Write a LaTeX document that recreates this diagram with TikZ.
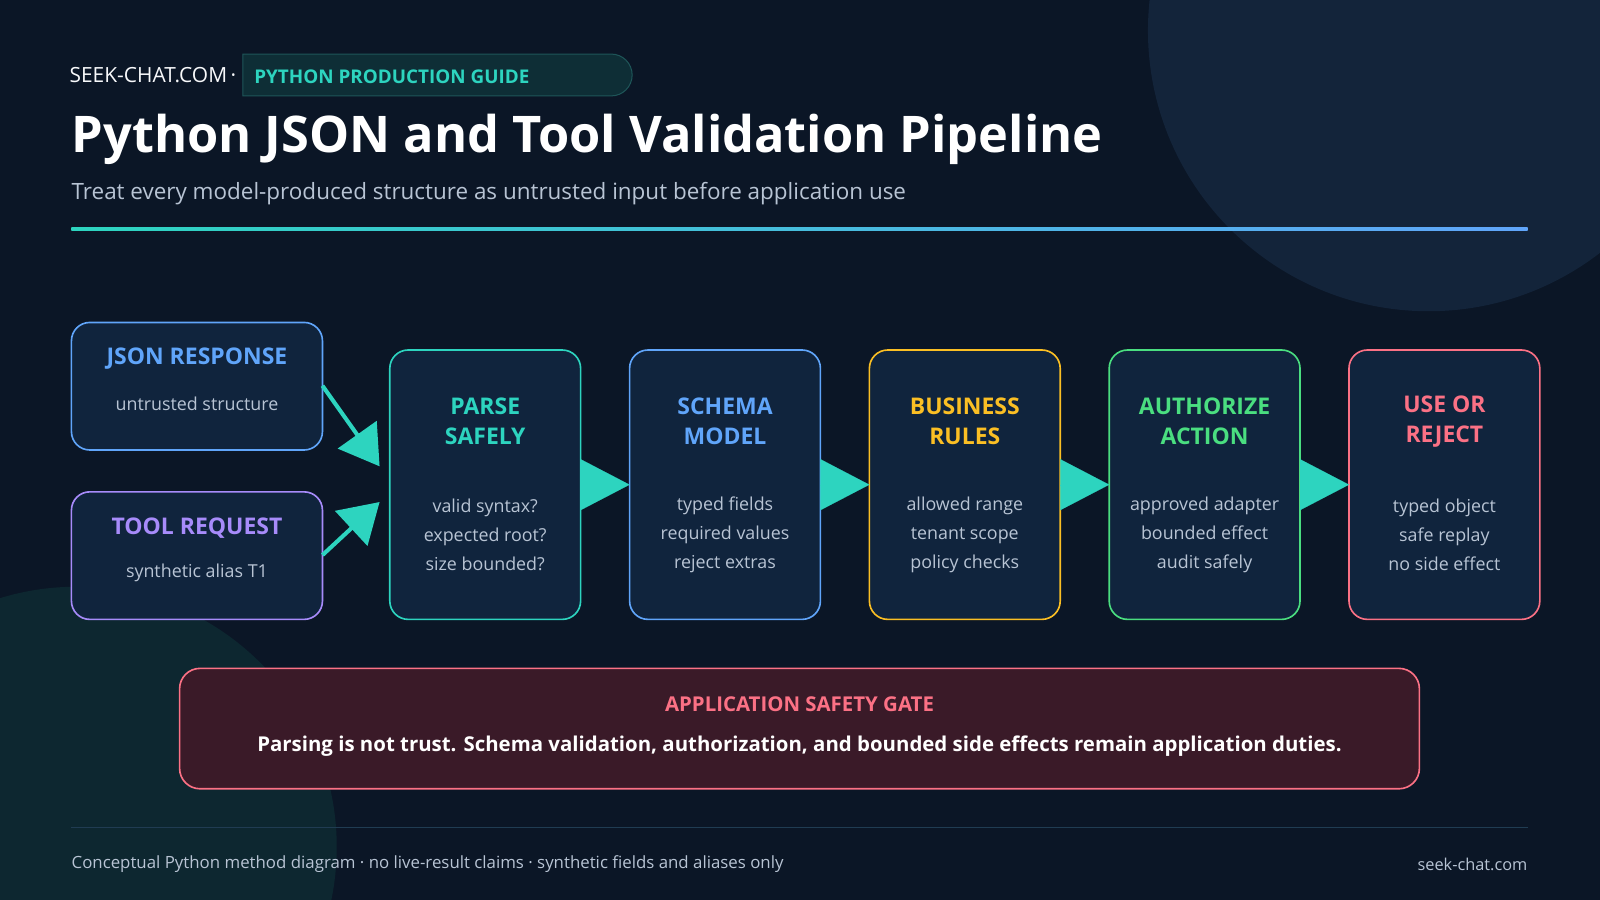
\documentclass[tikz,border=0pt]{standalone}
\usepackage{fontspec}
\setmainfont{Open Sans}
\usepackage{tikz}
\usetikzlibrary{positioning,arrows.meta}

\definecolor{bgc}{HTML}{0B1626}
\definecolor{boxc}{HTML}{10243D}
\definecolor{tealc}{HTML}{2DD4BF}
\definecolor{bluec}{HTML}{60A5FA}
\definecolor{purplec}{HTML}{A78BFA}
\definecolor{yellowc}{HTML}{FBBF24}
\definecolor{greenc}{HTML}{4ADE80}
\definecolor{pinkc}{HTML}{FB7185}
\definecolor{greyc}{HTML}{B8C4D4}
\definecolor{gatec}{HTML}{3A1A28}
\definecolor{blobc}{HTML}{13243A}
\definecolor{blobtc}{HTML}{0D2730}
\definecolor{pillc}{HTML}{0E2E36}
\definecolor{pilldc}{HTML}{1E5558}
\definecolor{rulec}{HTML}{203C52}

\begin{document}
\begin{tikzpicture}[x=1pt,y=-1pt,
	stage/.style={rectangle, rounded corners=18, draw=#1, line width=1.6, fill=boxc,
		minimum width=187, minimum height=264, inner sep=0, outer sep=0},
	source/.style={rectangle, rounded corners=18, draw=#1, line width=1.6, fill=boxc,
		minimum width=246, minimum height=125, inner sep=0, outer sep=0},
	stitle/.style={text=#1, font=\fontsize{22.5}{30}\selectfont\bfseries, align=center, inner sep=0},
	sbody/.style={text=greyc, font=\fontsize{17.5}{28.5}\selectfont, align=center, inner sep=0},
	flow/.style={tealc, line width=4, -{Triangle[length=38,width=46]}},
	handoff/.style={tealc, line width=0.1, -{Triangle[length=48,width=50]}}]

	% background
	\fill[bgc] (0,0) rectangle (1568,882);
	\useasboundingbox (0,0) rectangle (1568,882);
	\begin{scope}
		\clip (0,0) rectangle (1568,882);
		\fill[blobc] (1400,30) circle[radius=275];
		\fill[blobtc] (75,830) circle[radius=255];
	\end{scope}

	% header
	\fill[pillc, draw=pilldc, line width=1]
		(238,53) -- (599,53) arc[start angle=-90, end angle=90, radius=20.5] -- (238,94) -- cycle;
	\node[anchor=west, inner sep=0, text=white!90!greyc, font=\fontsize{20.5}{22}\selectfont] (site) at (68,74) {SEEK-CHAT.COM\,·};
	\node[anchor=west, inner sep=0, text=tealc, font=\fontsize{18.5}{20}\selectfont\bfseries] (guide) at (249,75) {PYTHON PRODUCTION GUIDE};
	\node[anchor=base west, inner sep=0, text=white, font=\fontsize{49.5}{52}\selectfont\bfseries] (title) at (70,149) {Python JSON and Tool Validation Pipeline};
	\node[anchor=base west, inner sep=0, text=greyc, font=\fontsize{22}{24}\selectfont] (subtitle) at (70,196) {Treat every model-produced structure as untrusted input before application use};
	\shade[left color=tealc, right color=bluec] (70,223) rectangle (1497,226);

	% sources
	\node[source=bluec] (json) at (193,378.5) {};
	\node[stitle=bluec] at ([yshift=27]json.center) {JSON RESPONSE};
	\node[sbody] at ([yshift=-17]json.center) {untrusted structure};
	\node[source=purplec] (tool) at (193,544.5) {};
	\node[stitle=purplec] at ([yshift=27]tool.center) {TOOL REQUEST};
	\node[sbody] at ([yshift=-17]tool.center) {synthetic alias T1};

	% stages
	\node[stage=tealc] (parse) at (475.5,475) {};
	\node[stage=bluec, right=48 of parse] (schema) {};
	\node[stage=yellowc, right=48 of schema] (rules) {};
	\node[stage=greenc, right=48 of rules] (auth) {};
	\node[stage=pinkc, right=48 of auth] (use) {};

	\node[stitle=tealc] at ([yshift=62]parse.center) {PARSE\\SAFELY};
	\node[sbody] at ([yshift=-49]parse.center) {valid syntax?\\expected root?\\size bounded?};
	\node[stitle=bluec] at ([yshift=62]schema.center) {SCHEMA\\MODEL};
	\node[sbody] at ([yshift=-49]schema.center) {typed fields\\required values\\reject extras};
	\node[stitle=yellowc] at ([yshift=62]rules.center) {BUSINESS\\RULES};
	\node[sbody] at ([yshift=-49]rules.center) {allowed range\\tenant scope\\policy checks};
	\node[stitle=greenc] at ([yshift=62]auth.center) {AUTHORIZE\\ACTION};
	\node[sbody] at ([yshift=-49]auth.center) {approved adapter\\bounded effect\\audit safely};
	\node[stitle=pinkc] at ([yshift=62]use.center) {USE OR\\REJECT};
	\node[sbody] at ([yshift=-49]use.center) {typed object\\safe replay\\no side effect};

	% connectors
	\draw[flow] (json.east |- 0,378) -- ([xshift=-10,yshift=18]parse.west);
	\draw[flow] (tool.east |- 0,544) -- ([xshift=-10,yshift=-17]parse.west);
	\draw[handoff] (parse) -- (schema);
	\draw[handoff] (schema) -- (rules);
	\draw[handoff] (rules) -- (auth);
	\draw[handoff] (auth) -- (use);

	% gate
	\node[rectangle, rounded corners=20, draw=pinkc, line width=1.6, fill=gatec,
		minimum width=1215, minimum height=118, inner sep=0] (gate) at (783.5,714) {};
	\node[stitle=pinkc, font=\fontsize{20}{24}\selectfont\bfseries] at ([yshift=24]gate.center) {APPLICATION SAFETY GATE};
	\node[text=white, inner sep=0, font=\fontsize{20}{24}\selectfont\bfseries] at ([yshift=-17]gate.center)
		{Parsing is not trust. Schema validation, authorization, and bounded side effects remain application duties.};

	% footer
	\draw[rulec, line width=1.5] (70,811) -- (1497,811);
	\node[anchor=west, inner sep=0, text=greyc, font=\fontsize{16.5}{20}\selectfont] (foot) at (70,847)
		{Conceptual Python method diagram · no live-result claims · synthetic fields and aliases only};
	\node[anchor=east, inner sep=0, text=greyc, font=\fontsize{16}{20}\selectfont] (url) at (1497,847) {seek-chat.com};
\end{tikzpicture}
\end{document}
